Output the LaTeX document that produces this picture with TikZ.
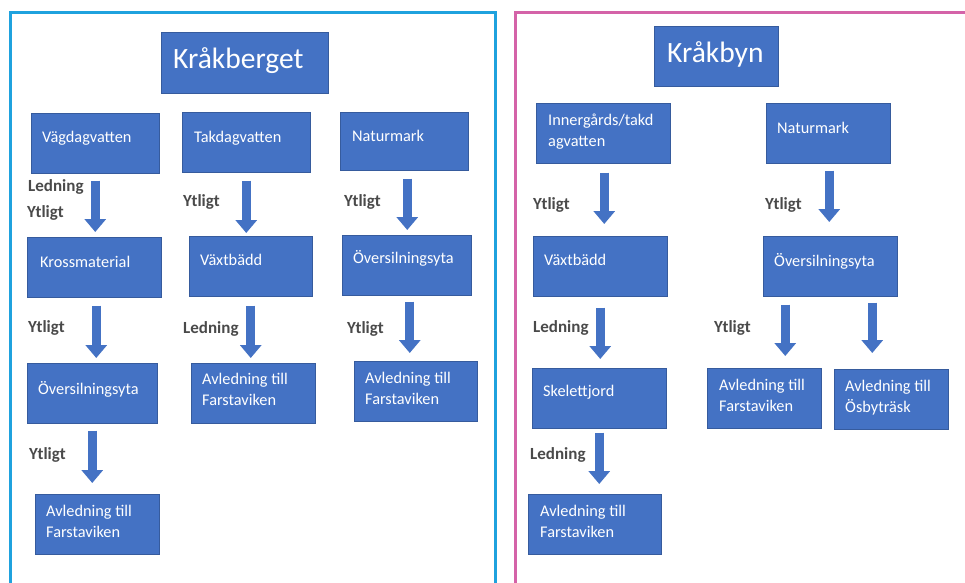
\documentclass[tikz,border=0pt]{standalone}
\usepackage{fontspec}
\setmainfont{Carlito}
\usetikzlibrary{arrows.meta,calc}
\definecolor{boxblue}{HTML}{4472C4}
\definecolor{frameblue}{HTML}{1FA2DE}
\definecolor{framepink}{HTML}{D463A8}
\definecolor{lblgray}{HTML}{4A4A4A}
\tikzset{
  box/.style={fill=boxblue, draw=boxblue!80!black, line width=0.5pt, inner sep=0pt, anchor=north west},
  boxtext/.style={text=white, font=\fontsize{16.3}{21}\selectfont, align=left, anchor=north west, inner sep=0pt, yshift=-3.5pt},
  titletext/.style={text=white, font=\fontsize{29.5}{34}\selectfont, anchor=west, inner sep=0pt},
  lbl/.style={text=lblgray, font=\bfseries\fontsize{17}{20}\selectfont, anchor=west, inner sep=0pt},
  fatarrow/.style={draw=boxblue, line width=9pt, -{Triangle[width=21pt,length=13pt]}},
}
\begin{document}
\begin{tikzpicture}[x=1pt,y=-1pt]
\useasboundingbox (0,0) rectangle (965,582);
\fill[white] (0,0) rectangle (965,582);
\clip (0,0) rectangle (965,582);
% frames
\draw[frameblue, line width=3pt] (10,12) rectangle (495,600);
\draw[framepink, line width=3pt] (515,12) rectangle (995,600);

% ---------- Kråkberget ----------
\node[box, minimum width=167pt, minimum height=61pt] (kb) at (161,32) {};
\node[titletext] at ($(kb.west)+(12,-2)$) {Kråkberget};

\node[box, minimum width=128pt, minimum height=60pt] (vag) at (31,113) {};
\node[boxtext] at ($(vag.north west)+(11,14)$) {Vägdagvatten};
\node[box, minimum width=128pt, minimum height=60pt] (tak) at (182,112) {};
\node[boxtext] at ($(tak.north west)+(12,15)$) {Takdagvatten};
\node[box, minimum width=128pt, minimum height=58pt] (nat) at (340,112) {};
\node[boxtext] at ($(nat.north west)+(12,14)$) {Naturmark};

\node[box, minimum width=134pt, minimum height=60pt] (kross) at (27,237) {};
\node[boxtext] at ($(kross.north west)+(13,15)$) {Krossmaterial};
\node[box, minimum width=123pt, minimum height=60pt] (vax) at (189,236) {};
\node[boxtext] at ($(vax.north west)+(11,14)$) {Växtbädd};
\node[box, minimum width=129pt, minimum height=60pt] (ovs) at (342,235) {};
\node[boxtext] at ($(ovs.north west)+(11,12)$) {Översilningsyta};

\node[box, minimum width=130pt, minimum height=60pt] (ovsl) at (27,363) {};
\node[boxtext] at ($(ovsl.north west)+(11,15)$) {Översilningsyta};
\node[box, minimum width=124pt, minimum height=60pt] (avm) at (191,363) {};
\node[boxtext] at ($(avm.north west)+(11,6)$) {Avledning till\\Farstaviken};
\node[box, minimum width=123pt, minimum height=60pt] (avr) at (354,361) {};
\node[boxtext] at ($(avr.north west)+(11,7)$) {Avledning till\\Farstaviken};

\node[box, minimum width=124pt, minimum height=60pt] (avl) at (35,494) {};
\node[boxtext] at ($(avl.north west)+(11,7)$) {Avledning till\\Farstaviken};

% arrows Kråkberget
\draw[fatarrow, shorten <=7pt, shorten >=5pt] (vag.south) -- (vag.south |- kross.north);
\draw[fatarrow, shorten <=8pt, shorten >=3pt] (tak.south) -- (tak.south |- vax.north);
\coordinate (natA) at ($(nat.south)+(3,0)$);
\draw[fatarrow, shorten <=8pt, shorten >=5pt] (natA) -- (natA |- ovs.north);
\coordinate (krossA) at ($(kross.south)+(2,0)$);
\draw[fatarrow, shorten <=8pt, shorten >=5pt] (krossA) -- (krossA |- ovsl.north);
\draw[fatarrow, shorten <=9pt, shorten >=5pt] (vax.south) -- (vax.south |- avm.north);
\coordinate (ovsA) at ($(ovs.south)+(3,0)$);
\draw[fatarrow, shorten <=6pt, shorten >=8pt] (ovsA) -- (ovsA |- avr.north);
\draw[fatarrow, shorten <=7pt, shorten >=11pt] (ovsl.south) -- (ovsl.south |- avl.north);

% labels Kråkberget
\node[lbl] at (28,187) {Ledning};
\node[lbl] at (27,213) {Ytligt};
\node[lbl] at (183,202) {Ytligt};
\node[lbl] at (344,202) {Ytligt};
\node[lbl] at (28,328) {Ytligt};
\node[lbl] at (183,329) {Ledning};
\node[lbl] at (347,329) {Ytligt};
\node[lbl] at (29,455) {Ytligt};

% ---------- Kråkbyn ----------
\node[box, minimum width=124pt, minimum height=60pt] (kby) at (654,26) {};
\node[titletext] at ($(kby.west)+(13,-2)$) {Kråkbyn};

\node[box, minimum width=134pt, minimum height=60pt] (inn) at (536,103) {};
\node[boxtext] at ($(inn.north west)+(12,7)$) {Innergårds/takd\\agvatten};
\node[box, minimum width=124pt, minimum height=60pt] (nat2) at (766,103) {};
\node[boxtext] at ($(nat2.north west)+(11,15)$) {Naturmark};

\node[box, minimum width=134pt, minimum height=60pt] (vax2) at (533,236) {};
\node[boxtext] at ($(vax2.north west)+(11,14)$) {Växtbädd};
\node[box, minimum width=134pt, minimum height=60pt] (ovs2) at (763,236) {};
\node[boxtext] at ($(ovs2.north west)+(11,14)$) {Översilningsyta};

\node[box, minimum width=134pt, minimum height=60pt] (skel) at (532,368) {};
\node[boxtext] at ($(skel.north west)+(11,13)$) {Skelettjord};
\node[box, minimum width=114pt, minimum height=60pt] (avf2) at (707,368) {};
\node[boxtext] at ($(avf2.north west)+(12,7)$) {Avledning till\\Farstaviken};
\node[box, minimum width=114pt, minimum height=60pt] (avo) at (834,369) {};
\node[boxtext] at ($(avo.north west)+(11,7)$) {Avledning till\\Ösbyträsk};

\node[box, minimum width=133pt, minimum height=60pt] (avl2) at (528,494) {};
\node[boxtext] at ($(avl2.north west)+(12,7)$) {Avledning till\\Farstaviken};

% arrows Kråkbyn
\coordinate (innA) at ($(inn.south)+(1,0)$);
\draw[fatarrow, shorten <=9pt, shorten >=12pt] (innA) -- (innA |- vax2.north);
\coordinate (nat2A) at ($(nat2.south)+(1,0)$);
\draw[fatarrow, shorten <=7pt, shorten >=14pt] (nat2A) -- (nat2A |- ovs2.north);
\draw[fatarrow, shorten <=11pt, shorten >=9pt] (vax2.south) -- (vax2.south |- skel.north);
\draw[fatarrow, shorten <=4pt, shorten >=10pt] (skel.south) -- (skel.south |- avl2.north);
\coordinate (ovs2L) at ($(ovs2.south)+(-45,0)$);
\draw[fatarrow, shorten <=8pt, shorten >=12pt] (ovs2L) -- (ovs2L |- avf2.north);
\coordinate (ovs2R) at ($(ovs2.south)+(42,0)$);
\draw[fatarrow, shorten <=6pt, shorten >=16pt] (ovs2R) -- (ovs2R |- avo.north);

% labels Kråkbyn
\node[lbl] at (533,205) {Ytligt};
\node[lbl] at (765,205) {Ytligt};
\node[lbl] at (533,328) {Ledning};
\node[lbl] at (714,328) {Ytligt};
\node[lbl] at (530,455) {Ledning};
\end{tikzpicture}
\end{document}
